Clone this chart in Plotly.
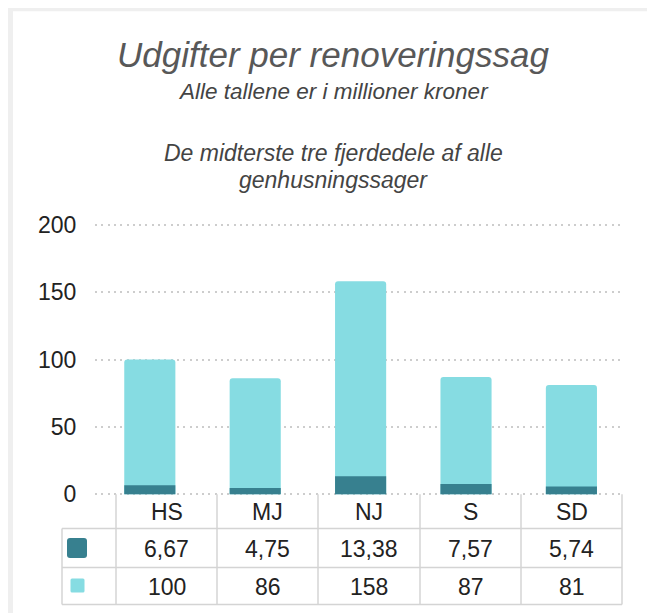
import plotly.graph_objects as go

# ---- data ----
categories = ["HS", "MJ", "NJ", "S", "SD"]
dark_values = [6.67, 4.75, 13.38, 7.57, 5.74]
light_values = [100, 86, 158, 87, 81]
dark_labels = ["6,67", "4,75", "13,38", "7,57", "5,74"]
light_labels = ["100", "86", "158", "87", "81"]
y_ticks = [0, 50, 100, 150, 200]

title_text = "Udgifter per renoveringssag"
subtitle_text = "Alle tallene er i millioner kroner"
note_lines = ["De midterste tre fjerdedele af alle", "genhusningssager"]

# ---- styling ----
W, H = 655, 613
OFF = 8  # page body margin offset
# reference pixel positions (window coords)
X0_REF, X1_REF = 95, 622           # plot x extents
Y_ZERO, Y_TOP = 494, 225           # pixel of value 0 and 200
YMIN, YMAX = -2, 202
ppu = (Y_ZERO - Y_TOP) / 200.0
PT = Y_TOP - (YMAX - 200) * ppu    # plot top in ref px
PB = Y_ZERO + (0 - YMIN) * ppu     # plot bottom in ref px

DARK = "#37808f"
LIGHT = "#86dce2"
GRID = "#cdcdcd"
BORDER = "#d4d4d4"
TEXT = "#222222"
FONT = "Liberation Sans, Arial, sans-serif"


def px_x(p):
    return (p - X0_REF) / (X1_REF - X0_REF)


def px_y(p):
    return (PB - p) / (PB - PT)


fig = go.Figure()
fig.add_trace(go.Bar(x=categories, y=light_values, marker=dict(color=LIGHT, line=dict(width=0), cornerradius=3),
                     width=0.485, name="light"))
fig.add_trace(go.Bar(x=categories, y=dark_values, marker=dict(color=DARK, line=dict(width=0), cornerradius=2),
                     width=0.485, name="dark"))

shapes = []
annotations = []

# card background
shapes.append(dict(type="rect", xref="paper", yref="paper", x0=px_x(13), x1=px_x(648), y0=px_y(12), y1=px_y(660),
                   fillcolor="white", line=dict(width=0), layer="below"))

# table geometry
col_edges = [116, 217, 318, 420, 521, 622]
row_edges = [494, 528, 567, 604]
legend_left = 62
lw = 1.5
for xe in col_edges:
    shapes.append(dict(type="line", xref="paper", yref="paper", x0=px_x(xe), x1=px_x(xe),
                       y0=px_y(row_edges[0]), y1=px_y(row_edges[-1]), line=dict(color=BORDER, width=lw)))
shapes.append(dict(type="line", xref="paper", yref="paper", x0=px_x(legend_left), x1=px_x(legend_left),
                   y0=px_y(row_edges[1]), y1=px_y(row_edges[-1]), line=dict(color=BORDER, width=lw)))
for ye in row_edges[1:]:
    shapes.append(dict(type="line", xref="paper", yref="paper", x0=px_x(legend_left), x1=px_x(col_edges[-1]),
                       y0=px_y(ye), y1=px_y(ye), line=dict(color=BORDER, width=lw)))


def rounded_square(cx, cy, half, r, color):
    x0, x1 = cx - half, cx + half
    y0, y1 = cy - half, cy + half
    path = (f"M {px_x(x0 + r)} {px_y(y0)} L {px_x(x1 - r)} {px_y(y0)} "
            f"Q {px_x(x1)} {px_y(y0)} {px_x(x1)} {px_y(y0 + r)} L {px_x(x1)} {px_y(y1 - r)} "
            f"Q {px_x(x1)} {px_y(y1)} {px_x(x1 - r)} {px_y(y1)} L {px_x(x0 + r)} {px_y(y1)} "
            f"Q {px_x(x0)} {px_y(y1)} {px_x(x0)} {px_y(y1 - r)} L {px_x(x0)} {px_y(y0 + r)} "
            f"Q {px_x(x0)} {px_y(y0)} {px_x(x0 + r)} {px_y(y0)} Z")
    return dict(type="path", xref="paper", yref="paper", path=path, fillcolor=color, line=dict(width=0))


shapes.append(rounded_square(77, 547.5, 10, 3, DARK))
shapes.append(rounded_square(77.5, 585, 7, 1.5, LIGHT))

# table texts
row_texts = [categories, dark_labels, light_labels]
for r, texts in enumerate(row_texts):
    cy = (row_edges[r] + row_edges[r + 1]) / 2
    for c, t in enumerate(texts):
        cx = (col_edges[c] + col_edges[c + 1]) / 2
        annotations.append(dict(text=t, xref="paper", yref="paper", x=px_x(cx), y=px_y(cy + 1),
                                showarrow=False, xanchor="center", yanchor="middle",
                                font=dict(family=FONT, size=23, color=TEXT)))

# titles
annotations.append(dict(text=f"<i>{title_text}</i>", xref="paper", yref="paper", x=px_x(333), y=px_y(55),
                        showarrow=False, xanchor="center", yanchor="middle",
                        font=dict(family=FONT, size=35, color="#585858")))
annotations.append(dict(text=f"<i>{subtitle_text}</i>", xref="paper", yref="paper", x=px_x(333), y=px_y(92),
                        showarrow=False, xanchor="center", yanchor="middle",
                        font=dict(family=FONT, size=22.5, color="#444444")))
for i, line in enumerate(note_lines):
    annotations.append(dict(text=f"<i>{line}</i>", xref="paper", yref="paper", x=px_x(333), y=px_y(153 + 27 * i),
                            showarrow=False, xanchor="center", yanchor="middle",
                            font=dict(family=FONT, size=23, color="#444444")))

fig.update_layout(
    width=W, height=H,
    margin=dict(l=X0_REF - OFF, r=W - (X1_REF - OFF), t=PT - OFF, b=H - (PB - OFF), pad=0),
    paper_bgcolor="#efefef",
    plot_bgcolor="rgba(0,0,0,0)",
    barmode="overlay",
    showlegend=False,
    shapes=shapes,
    annotations=annotations,
    font=dict(family=FONT, color=TEXT),
    xaxis=dict(showticklabels=False, showgrid=False, zeroline=False, showline=False, ticks="",
               range=[-0.52, len(categories) - 0.52]),
    yaxis=dict(range=[YMIN, YMAX], tickvals=y_ticks, showgrid=True, gridcolor=GRID, griddash="2px,4.3px",
               gridwidth=2.2, zeroline=False, showline=False, ticks="outside", ticklen=13,
               tickcolor="rgba(0,0,0,0)", tickfont=dict(family=FONT, size=23, color=TEXT)),
)

fig.write_html("out.html")
